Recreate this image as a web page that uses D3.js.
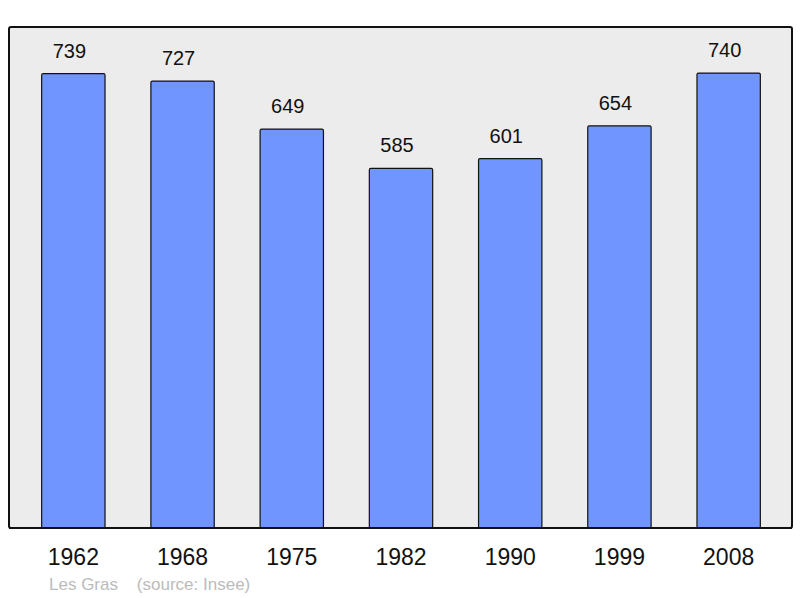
<html lang="fr">
  <head>
    <meta charset="utf-8">
    <title>Les Gras population</title>
    <script src="https://d3js.org/d3.v7.min.js"></script>
    <style>
      body { margin: 0; background: #fff; }
      text { font-family: "Liberation Sans", Arial, sans-serif; }
    </style>
  </head>
  <body>
    <script type="text/javascript">
      var w = 800;
      var h = 598;
      var frame = {left: 9, right: 792, top: 27, bottom: 528};

      var years = ["1962", "1968", "1975", "1982", "1990", "1999", "2008"];
      var population = [739, 727, 649, 585, 601, 654, 740];
      var caption = ["Les Gras", "(source: Insee)"];

      var xScale = d3.scaleBand()
          .domain(years)
          .range([frame.left + 1, frame.right])
          .paddingInner(0.42)
          .paddingOuter(0.29);
      var yScale = d3.scaleLinear()
          .domain([0, 815])
          .range([frame.bottom, frame.top]);

      var svg = d3.select("body")
          .append("svg")
          .attr("width", w)
          .attr("height", h);

      svg.append("rect")
          .attr("x", frame.left)
          .attr("y", frame.top)
          .attr("width", frame.right - frame.left)
          .attr("height", frame.bottom - frame.top)
          .attr("rx", 2)
          .attr("fill", "#ececec")
          .attr("stroke", "#111")
          .attr("stroke-width", 2);

      svg.selectAll("rect.bar")
          .data(years)
          .enter()
          .append("rect")
          .attr("class", "bar")
          .attr("x", function(d) { return xScale(d); })
          .attr("y", function(d, i) { return yScale(population[i]); })
          .attr("width", xScale.bandwidth())
          .attr("height", function(d, i) { return frame.bottom - yScale(population[i]); })
          .attr("rx", 1.5)
          .attr("fill", "#7095ff")
          .attr("stroke", "#111")
          .attr("stroke-width", 1.2);

      // frame bottom over the bars
      svg.append("line")
          .attr("x1", frame.left).attr("x2", frame.right)
          .attr("y1", frame.bottom).attr("y2", frame.bottom)
          .attr("stroke", "#111")
          .attr("stroke-width", 2);

      // value labels sit a little left of the bar centre in the original
      svg.selectAll("text.value")
          .data(years)
          .enter()
          .append("text")
          .attr("class", "value")
          .attr("x", function(d) { return xScale(d) + xScale.bandwidth() / 2 - 4; })
          .attr("y", function(d, i) { return yScale(population[i]) - 16; })
          .attr("text-anchor", "middle")
          .attr("font-size", 20)
          .attr("fill", "#111")
          .text(function(d, i) { return population[i]; });

      var xAxis = d3.axisBottom(xScale).tickSize(0).tickPadding(0);
      var gx = svg.append("g")
          .attr("transform", "translate(0," + frame.bottom + ")")
          .call(xAxis);
      gx.select(".domain").remove();
      gx.selectAll("text")
          .attr("dy", null)
          .attr("y", 37)
          .attr("font-size", 23)
          .attr("font-family", "Liberation Sans, Arial, sans-serif")
          .attr("fill", "#111");

      svg.append("text")
          .attr("x", 49)
          .attr("y", 590)
          .attr("font-size", 17)
          .attr("fill", "#bbb")
          .attr("xml:space", "preserve")
          .text(caption[0] + "    " + caption[1]);
    </script>
  </body>
</html>
